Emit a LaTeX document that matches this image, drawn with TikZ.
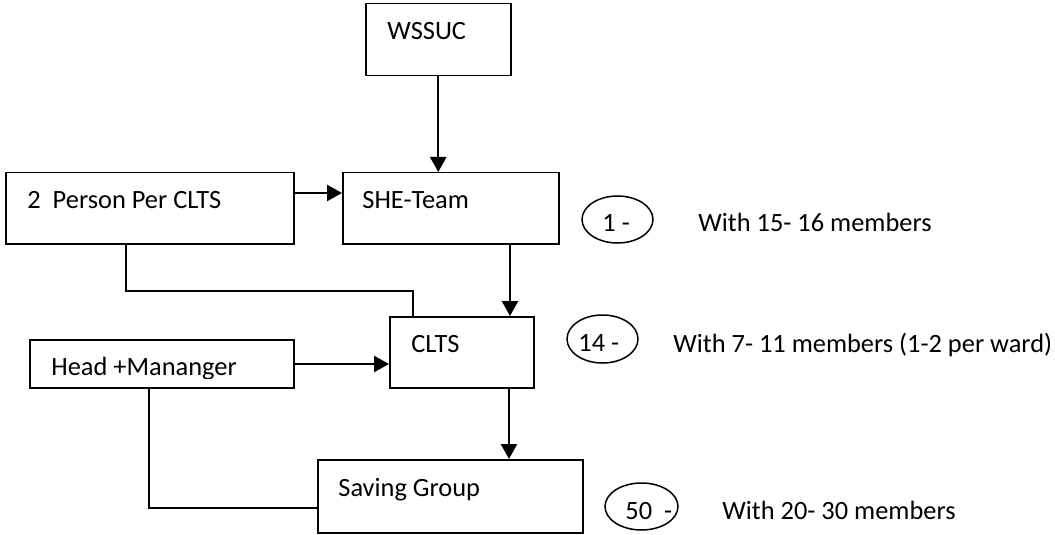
\documentclass[tikz,border=0pt]{standalone}
\usepackage{fontspec}
\setmainfont{Carlito}
\usetikzlibrary{arrows.meta,shapes.geometric}
\begin{document}
\begin{tikzpicture}[x=0.5pt,y=-0.5pt,
  box/.style={draw,line width=0.75pt,rectangle,inner sep=0pt,anchor=north west},
  txt/.style={inner sep=0pt,anchor=base west,font=\fontsize{13.2}{15}\selectfont},
  oval/.style={draw,line width=0.75pt,ellipse,inner sep=0pt},
  arr/.style={line width=1.2pt,-{Triangle[length=7.5pt,width=8pt]}},
  link/.style={line width=0.75pt}]
\useasboundingbox (0,0) rectangle (1055,535);
% boxes
\node[box,minimum width=72.5pt,minimum height=36pt] (wssuc) at (365,3) {};
\node[box,minimum width=108pt,minimum height=35.5pt] (she) at (342,172) {};
\node[box,minimum width=144pt,minimum height=35.5pt] (person) at (5,172) {};
\node[box,minimum width=72pt,minimum height=35.5pt] (clts) at (389,316) {};
\node[box,minimum width=132pt,minimum height=24pt] (head) at (29,339) {};
\node[box,minimum width=132.5pt,minimum height=36.5pt] (saving) at (317,459) {};
% box texts
\node[txt] (wssuc-t) at (387,40) {WSSUC};
\node[txt] (she-t) at (362,208) {SHE-Team};
\node[txt] (person-t) at (27,208) {2\ \ Person Per CLTS};
\node[txt] (clts-t) at (411,352) {CLTS};
\begin{scope}
\clip (0,0) rectangle (1055,378);
\node[txt] (head-t) at (51,375) {Head +Mananger};
\end{scope}
\node[txt] (saving-t) at (338,496) {Saving Group};
% ovals
\node[oval,minimum width=35.5pt,minimum height=23.5pt] (o1) at (617.5,219.5) {};
\node[oval,minimum width=35.5pt,minimum height=24pt] (o14) at (602.5,339) {};
\node[oval,minimum width=36.5pt,minimum height=23.5pt] (o50) at (641.5,506.5) {};
\node[txt] (o1-t) at (602,231) {1 -};
\node[txt] (o14-t) at (578,351) {14 -};
\node[txt] (o50-t) at (625,519) {50\ \ -};
% side notes
\node[txt] (n1) at (698,231) {With 15- 16 members};
\node[txt] (n14) at (673,352) {With 7- 11 members (1-2 per ward)};
\node[txt] (n50) at (722,519) {With 20- 30 members};
% connectors
\draw[arr] (wssuc.south) -- (wssuc.south |- she.north);
\draw[arr] (person.east |- 0,193) -- (she.west |- 0,193);
\draw[arr] (she.south -| 510,0) -- (clts.north -| 510,0);
\coordinate (bend1) at (413,291);
\draw[link] (person.south -| 126,0) |- (bend1) -- (clts.north -| bend1);
\draw[arr] (head.east |- 0,364) -- (clts.west |- 0,364);
\coordinate (bend2) at (149,508);
\draw[link] (head.south -| bend2) -- (bend2) -- (saving.west |- bend2);
\draw[arr] (clts.south -| 509,0) -- (saving.north -| 509,0);
\end{tikzpicture}
\end{document}
